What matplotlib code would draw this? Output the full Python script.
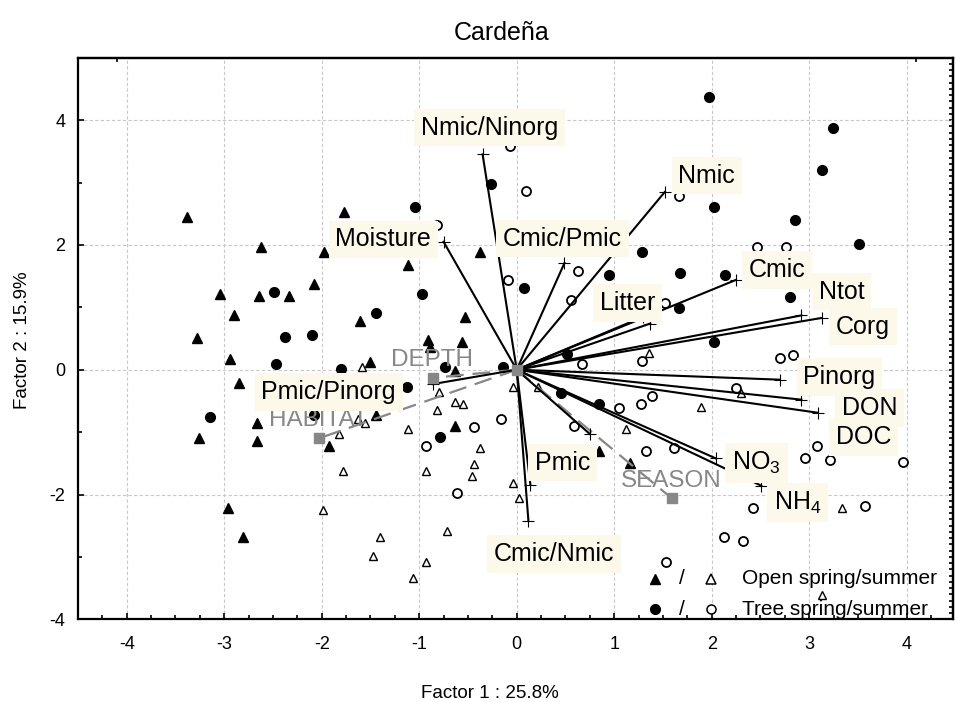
import matplotlib
matplotlib.use("Agg")
import matplotlib.pyplot as plt
from matplotlib.ticker import MultipleLocator

plt.rcParams['font.family'] = ['Liberation Sans', 'DejaVu Sans']
plt.rcParams['mathtext.fontset'] = 'custom'
plt.rcParams['mathtext.rm'] = 'Liberation Sans'
plt.rcParams['axes.unicode_minus'] = False

# active variables (loadings, end of each vector)
var_names = ["Nmic/Ninorg", "Moisture", "Nmic", "Cmic/Pmic", "Litter", "Cmic",
             "Ntot", "Corg", "Pinorg", "DON", "DOC", r"NO$_\mathregular{3}$",
             r"NH$_\mathregular{4}$", "Pmic", "Cmic/Nmic", "Pmic/Pinorg", "", ""]
var_x = [-0.35, -0.75, 1.52, 0.49, 1.37, 2.25, 2.92, 3.13, 2.70, 2.92, 3.09, 2.04,
         2.51, 0.75, 0.12, -0.86, 0.14, 1.30]
var_y = [3.45, 2.05, 2.85, 1.71, 0.74, 1.44, 0.87, 0.83, -0.16, -0.48, -0.69, -1.42,
         -1.86, -1.03, -2.42, -0.23, -1.84, 0.85]

# where the boxed names sit
label_x = [-0.28, -1.37, 1.95, 0.47, 1.14, 2.67, 3.33, 3.55, 3.31, 3.62, 3.56, 2.46,
           2.88, 0.47, 0.38, -1.93]
label_y = [3.88, 2.09, 3.11, 2.10, 1.07, 1.60, 1.25, 0.69, -0.12, -0.61, -1.08, -1.49,
           -2.13, -1.49, -2.95, -0.36]

# supplementary variables
sup_names = ["DEPTH", "HABITAT", "SEASON"]
sup_x = [-0.86, -2.03, 1.59]
sup_y = [-0.13, -1.10, -2.06]
sup_label_x = [-0.87, -2.03, 1.59]
sup_label_y = [0.16, -0.80, -1.78]

# cases
open_spring_x = [-3.38, -2.62, -1.77, -1.98, -1.12, -0.38, -3.04, -2.64, -2.34, -2.08,
                 -2.90, -1.61, -0.53, -3.28, -0.91, -0.89, -0.56, -2.94, -2.85, -1.50,
                 -0.63, -2.66, -3.26, -2.66, -1.93, -1.44, -0.63, -2.96, -2.81, 1.16, 0.84]
open_spring_y = [2.44, 1.97, 2.53, 1.88, 1.68, 1.88, 1.21, 1.18, 1.18, 1.37,
                 0.88, 0.78, 0.85, 0.51, 0.48, 0.37, 0.44, 0.17, -0.22, 0.12,
                 -0.02, -0.86, -1.09, -1.15, -1.22, -0.72, -0.90, -2.21, -2.68, -1.50, -1.30]

open_summer_x = [-1.59, -0.80, -0.63, -0.55, -0.82, -1.63, -1.56, -1.12, -1.82, -0.38,
                 -1.78, -0.93, -0.44, -0.46, -1.99, -1.40, -1.47, -0.93, -1.06, -0.72,
                 1.36, 2.30, 1.89, 1.12, -0.04, 0.22, -0.04, 0.02, 3.34, 3.13]
open_summer_y = [0.04, -0.35, -0.51, -0.55, -0.64, -0.79, -0.86, -0.95, -1.03, -1.25,
                 -1.62, -1.62, -1.51, -1.71, -2.25, -2.68, -2.98, -3.08, -3.34, -2.58,
                 0.27, -0.37, -0.59, -0.95, -0.28, -0.28, -1.82, -2.05, -2.22, -3.61]

tree_spring_x = [-1.04, -0.26, -2.49, -1.44, -0.97, -2.38, -2.10, 1.97, 3.24, 3.13,
                 2.02, 2.85, 3.51, 1.29, 0.95, 1.67, 2.14, 0.07, 2.80, 1.66,
                 2.02, -2.47, -1.80, -0.74, -0.14, -3.15, -2.08, -1.13, -0.79, 0.52,
                 0.45, 0.84]
tree_spring_y = [2.61, 2.97, 1.25, 0.91, 1.21, 0.52, 0.55, 4.37, 3.87, 3.20,
                 2.60, 2.40, 2.01, 1.88, 1.51, 1.55, 1.51, 1.31, 1.17, 0.99,
                 0.45, 0.09, 0.01, 0.05, 0.05, -0.75, -0.72, -0.28, -1.08, 0.25,
                 -0.38, -0.55]

tree_summer_x = [-0.82, -0.07, 0.10, 1.66, 0.63, -0.09, 0.56, 2.46, 2.76, 1.52,
                 -0.16, -0.44, -0.93, -0.61, 0.67, 1.29, 2.70, 2.83, 2.25, 1.39,
                 1.27, 1.05, 0.59, 1.33, 1.61, 3.08, 2.96, 3.21, 3.96, 2.42,
                 3.57, 2.13, 2.32, 1.53]
tree_summer_y = [2.32, 3.58, 2.87, 2.79, 1.58, 1.44, 1.11, 1.96, 1.96, 1.07,
                 -0.79, -0.92, -1.22, -1.98, 0.09, 0.14, 0.18, 0.24, -0.29, -0.42,
                 -0.55, -0.62, -0.90, -1.31, -1.25, -1.22, -1.42, -1.45, -1.48, -2.22,
                 -2.18, -2.68, -2.74, -3.08]

legend_rows = [("^", "Open spring/summer"), ("o", "Tree spring/summer")]

box_color = "#fcf8ea"
grey = "#878787"


def main():
    fig = plt.figure(figsize=(9.57, 7.02), dpi=100)
    ax = fig.add_axes([0.0815, 0.1178, 0.9148, 0.80])

    ax.set_xlim(-4.5, 4.48)
    ax.set_ylim(-4, 5)
    ax.xaxis.set_major_locator(MultipleLocator(1))
    ax.xaxis.set_minor_locator(MultipleLocator(0.25))
    ax.yaxis.set_major_locator(MultipleLocator(2))
    ax.yaxis.set_minor_locator(MultipleLocator(1))
    ax.grid(True, which="major", color="#c8c8c8", linestyle=(0, (3, 2)), linewidth=0.8)
    ax.set_axisbelow(True)
    ax.tick_params(which="both", direction="in", top=False, right=False,
                   labelsize=13, width=1.2)
    ax.tick_params(which="major", length=4)
    ax.tick_params(axis="x", which="major", pad=12)
    ax.tick_params(axis="y", which="major", pad=9)
    ax.tick_params(which="minor", length=3)
    for s in ax.spines.values():
        s.set_linewidth(1.6)

    right = ax.secondary_yaxis("right")
    right.yaxis.set_major_locator(MultipleLocator(0.1))
    right.tick_params(direction="in", length=3, width=1.2, labelright=False)
    right.spines["right"].set_linewidth(1.6)

    top = ax.secondary_xaxis("top")
    top.set_xticks([-4.1, 4.1])
    top.tick_params(direction="in", length=3, width=1.2, labeltop=False)
    top.spines["top"].set_linewidth(1.6)

    # cases
    ax.plot(open_spring_x, open_spring_y, "^", color="black", ms=7, zorder=3)
    ax.plot(open_summer_x, open_summer_y, "^", mfc="white", mec="black", ms=6,
            mew=1.0, zorder=3)
    ax.plot(tree_spring_x, tree_spring_y, "o", color="black", ms=7, zorder=3)
    ax.plot(tree_summer_x, tree_summer_y, "o", mfc="white", mec="black", ms=6.5,
            mew=1.3, zorder=3)

    # supplementary variables
    for i in range(len(sup_names)):
        ax.plot([0, sup_x[i]], [0, sup_y[i]], color=grey, lw=1.6,
                linestyle=(0, (8, 4)), zorder=4)
        ax.plot(sup_x[i], sup_y[i], "s", color=grey, ms=6.5, zorder=5)
        ax.text(sup_label_x[i], sup_label_y[i], sup_names[i], color=grey,
                fontsize=17.5, ha="center", va="center", zorder=5)
    ax.plot(0, 0, "s", color=grey, ms=6.5, zorder=6)

    # active variables
    for i in range(len(var_names)):
        ax.plot([0, var_x[i]], [0, var_y[i]], color="black", lw=1.5, zorder=4)
        ax.plot(var_x[i], var_y[i], "+", color="black", ms=9, mew=0.8, zorder=4)
    for i in range(len(label_x)):
        ax.text(label_x[i], label_y[i], var_names[i], fontsize=18,
                ha="center", va="center", zorder=7,
                bbox=dict(boxstyle="square,pad=0.27", fc=box_color, ec="none"))

    # legend
    for row, (mk, txt) in enumerate(legend_rows):
        yy = 0.0718 - row * 0.0535
        ax.plot(0.659, yy, mk, color="black", ms=7, transform=ax.transAxes,
                clip_on=False, zorder=8)
        ax.text(0.6895, yy, "/", fontsize=15, ha="center", va="center",
                transform=ax.transAxes, zorder=8)
        ax.plot(0.723, yy, mk, mfc="white", mec="black", ms=6.5, mew=1.1,
                transform=ax.transAxes, clip_on=False, zorder=8)
        ax.text(0.758, yy, txt, fontsize=15, ha="left", va="center",
                transform=ax.transAxes, zorder=8)

    ax.set_title("Cardeña", fontsize=18, x=0.484, pad=13)
    ax.set_xlabel("Factor 1 : 25.8%", fontsize=13.5)
    ax.set_ylabel("Factor 2 : 15.9%", fontsize=13.5)
    ax.xaxis.set_label_coords(0.471, -0.117)
    ax.yaxis.set_label_coords(-0.054, 0.497)

    fig.savefig("out.png", dpi=100)
    plt.close(fig)


if __name__ == "__main__":
    main()
